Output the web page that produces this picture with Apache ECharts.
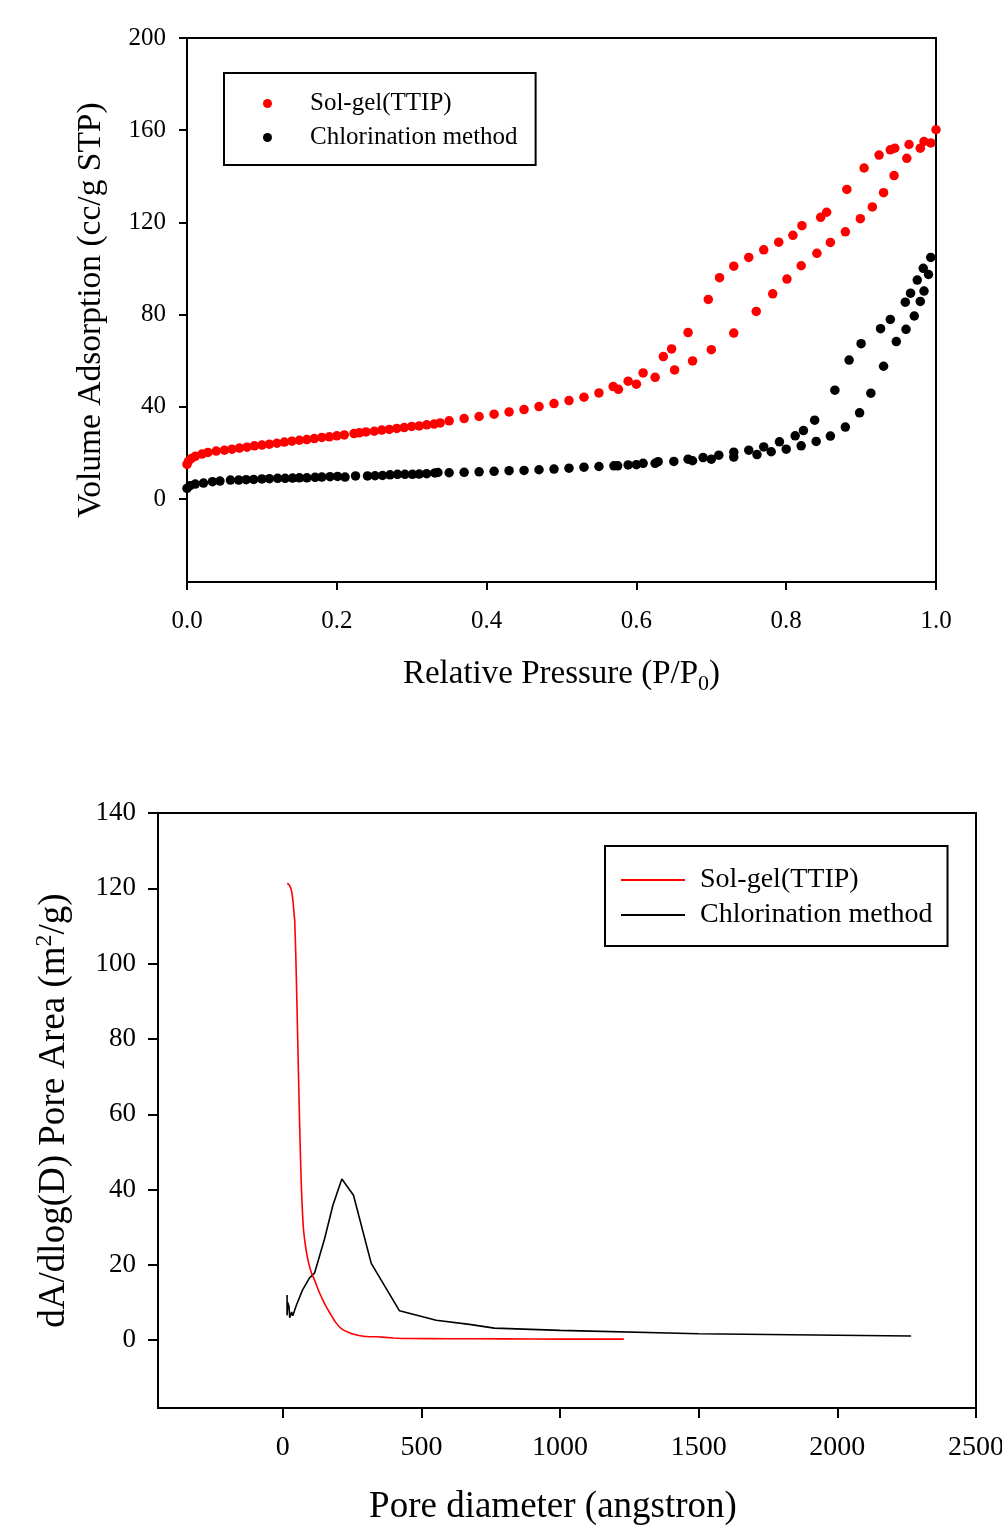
<!DOCTYPE html>
<html>
<head>
<meta charset="utf-8">
<script src="https://cdn.jsdelivr.net/npm/echarts@6/dist/echarts.min.js"></script>
<style>
html,body{margin:0;padding:0;background:#fff;}
#chart{width:1002px;height:1529px;}
</style>
</head>
<body>
<div id="chart"></div>
<script>
// ---- Top chart: N2 isotherms (P/P0, volume cc/g STP) ----
var isoXTicks = [0, 0.2, 0.4, 0.6, 0.8, 1.0];
var isoYTicks = [0, 40, 80, 120, 160, 200];
var solgelIsotherm = [[0.000,15.0],[0.002,16.4],[0.006,17.6],[0.011,18.5],[0.020,19.5],[0.028,20.2],[0.039,20.8],[0.050,21.2],[0.060,21.6],[0.070,22.1],[0.080,22.5],[0.090,23.1],[0.100,23.4],[0.110,23.8],[0.120,24.2],[0.130,24.7],[0.140,25.1],[0.150,25.5],[0.160,25.8],[0.170,26.2],[0.180,26.7],[0.190,27.0],[0.200,27.4],[0.210,27.8],[0.223,28.4],[0.230,28.7],[0.239,29.1],[0.250,29.4],[0.260,29.9],[0.270,30.2],[0.280,30.6],[0.290,31.0],[0.300,31.5],[0.310,31.7],[0.320,32.2],[0.330,32.5],[0.338,33.0],[0.350,33.9],[0.370,34.9],[0.390,35.8],[0.410,36.8],[0.430,37.8],[0.450,38.8],[0.470,40.1],[0.490,41.4],[0.510,42.7],[0.530,44.2],[0.550,46.0],[0.569,48.8],[0.576,47.6],[0.589,51.1],[0.600,49.8],[0.609,54.7],[0.625,52.8],[0.636,61.8],[0.647,65.1],[0.651,56.0],[0.669,72.2],[0.675,59.9],[0.696,86.6],[0.700,64.8],[0.711,96.0],[0.730,101.0],[0.730,72.0],[0.750,104.8],[0.760,81.4],[0.770,108.1],[0.782,89.0],[0.790,111.4],[0.801,95.4],[0.809,114.4],[0.820,101.2],[0.821,118.6],[0.841,106.6],[0.846,122.2],[0.854,124.4],[0.859,111.3],[0.879,115.9],[0.881,134.3],[0.899,121.6],[0.904,143.6],[0.915,126.7],[0.924,149.2],[0.930,132.9],[0.939,151.5],[0.944,140.3],[0.945,152.2],[0.961,147.8],[0.964,153.8],[0.979,152.2],[0.984,155.1],[0.993,154.5],[1.000,160.2]];
var chlorIsotherm = [[0.000,4.6],[0.004,5.8],[0.011,6.5],[0.022,6.9],[0.034,7.5],[0.044,7.8],[0.058,8.2],[0.069,8.2],[0.079,8.4],[0.089,8.5],[0.100,8.7],[0.110,8.8],[0.121,9.0],[0.131,9.0],[0.141,9.1],[0.150,9.2],[0.160,9.2],[0.171,9.4],[0.180,9.5],[0.191,9.7],[0.201,9.8],[0.211,9.5],[0.225,10.0],[0.241,10.0],[0.251,10.1],[0.261,10.2],[0.271,10.5],[0.281,10.7],[0.291,10.7],[0.301,10.7],[0.310,10.8],[0.320,11.0],[0.331,11.3],[0.335,11.5],[0.350,11.4],[0.370,11.6],[0.390,11.8],[0.410,12.0],[0.430,12.3],[0.450,12.4],[0.470,12.7],[0.490,13.0],[0.510,13.4],[0.530,13.8],[0.550,14.1],[0.570,14.4],[0.575,14.4],[0.589,14.8],[0.600,14.9],[0.609,15.5],[0.625,15.5],[0.629,16.2],[0.650,16.3],[0.669,17.3],[0.675,16.6],[0.689,18.0],[0.700,17.3],[0.710,19.0],[0.730,20.3],[0.730,18.2],[0.750,21.2],[0.761,19.3],[0.770,22.6],[0.780,20.5],[0.791,24.8],[0.800,21.6],[0.812,27.4],[0.820,23.1],[0.823,29.7],[0.838,34.2],[0.840,25.0],[0.859,27.3],[0.865,47.2],[0.879,31.2],[0.884,60.3],[0.898,37.4],[0.900,67.4],[0.913,45.9],[0.926,73.9],[0.930,57.6],[0.939,77.9],[0.947,68.3],[0.959,85.4],[0.960,73.6],[0.966,89.3],[0.971,79.4],[0.975,95.0],[0.979,85.7],[0.983,100.1],[0.984,90.2],[0.990,97.4],[0.993,104.8]];

// ---- Bottom chart: pore area distribution (angstrom, m2/g) ----
var psdXTicks = [0, 500, 1000, 1500, 2000, 2500];
var psdYTicks = [0, 20, 40, 60, 80, 100, 120, 140];
var solgelPSD = [[15.5,121.3],[19,121.2],[24,120.8],[29,120.0],[33,118.7],[37,116.5],[41,113.0],[43,111.5],[47,102.0],[51,89.4],[55,76.0],[59,62.9],[63,51.0],[67,40.7],[71,34.0],[75,29.2],[82,25.0],[91,21.2],[102,18.2],[115,15.9],[130,13.0],[145,10.6],[158,8.7],[171,7.1],[190,4.8],[211,3.1],[240,2.0],[271,1.3],[300,1.0],[337,0.9],[400,0.6],[457,0.45],[600,0.4],[800,0.35],[1000,0.3],[1230,0.3]];
var chlorPSD = [[15.5,12.0],[15.5,6.6],[18,10.0],[22.7,8.8],[25,6.0],[27.7,5.8],[32,7.5],[36,6.5],[39.6,6.2],[49,9.3],[71,13.3],[97,16.6],[115,17.9],[151,27.0],[181,35.9],[213,42.8],[255,38.5],[319,20.4],[421,7.8],[553,5.3],[673,4.2],[763,3.2],[1000,2.6],[1500,1.7],[2000,1.3],[2266,1.1]];

var FONT = '"Liberation Serif", "Times New Roman", serif';
var chart = echarts.init(document.getElementById('chart'), null, {renderer: 'canvas'});

function lineStyle() { return {color: '#000', width: 2}; }

var option = {
  backgroundColor: '#fff',
  animation: false,
  textStyle: {fontFamily: FONT, color: '#000'},
  grid: [
    {left: 187, top: 38, width: 749, height: 544, show: true, borderColor: '#000', borderWidth: 2, backgroundColor: 'transparent', containLabel: false, outerBoundsMode: 'none'},
    {left: 158, top: 813, width: 818, height: 595, show: true, borderColor: '#000', borderWidth: 2, backgroundColor: 'transparent', containLabel: false, outerBoundsMode: 'none'}
  ],
  legend: [
    {
      left: 224, top: 73, orient: 'vertical',
      padding: [18, 18, 15, 39],
      borderColor: '#000', borderWidth: 2,
      itemWidth: 9, itemHeight: 9, itemGap: 9,
      textStyle: {fontFamily: FONT, fontSize: 25, color: '#000', lineHeight: 24, padding: [0, 0, 0, 33]},
      data: [{name: 'Sol-gel(TTIP)', icon: 'circle'}, {name: 'Chlorination method', icon: 'circle'}],
      selectedMode: false
    },
    {
      left: 605, top: 846, orient: 'vertical',
      padding: [20, 15, 17, 16],
      borderColor: '#000', borderWidth: 2,
      itemWidth: 64, itemHeight: 2, itemGap: 7,
      textStyle: {fontFamily: FONT, fontSize: 28, color: '#000', lineHeight: 26, padding: [0, 0, 0, 10]},
      data: [{name: 'Sol-gel(TTIP)', icon: 'rect'}, {name: 'Chlorination method', icon: 'rect'}],
      selectedMode: false
    }
  ],
  xAxis: [
    {
      gridIndex: 0, type: 'value', min: 0, max: 1, interval: 0.2,
      axisLine: {show: true, onZero: false, lineStyle: lineStyle()},
      axisTick: {show: true, inside: false, length: 8, lineStyle: lineStyle()},
      axisLabel: {fontFamily: FONT, fontSize: 25, color: '#000', margin: 27,
        formatter: function (v) { return v.toFixed(1); }},
      splitLine: {show: false},
      name: 'Relative Pressure (P/P{sub|0})', nameLocation: 'middle', nameGap: 72,
      nameTextStyle: {fontFamily: FONT, fontSize: 33, color: '#000',
        rich: {sub: {fontFamily: FONT, fontSize: 22, color: '#000', padding: [19, 0, 0, 0]}}}
    },
    {
      gridIndex: 1, type: 'value', min: -450, max: 2500,
      axisLine: {show: true, onZero: false, lineStyle: lineStyle()},
      axisTick: {show: true, inside: false, length: 10, lineStyle: lineStyle(), customValues: psdXTicks},
      axisLabel: {fontFamily: FONT, fontSize: 28, color: '#000', margin: 26, customValues: psdXTicks, hideOverlap: false,
        formatter: function (v) { return String(v); }},
      splitLine: {show: false},
      name: 'Pore diameter (angstron)', nameLocation: 'middle', nameGap: 81,
      nameTextStyle: {fontFamily: FONT, fontSize: 37, color: '#000', padding: [0, 28, 0, 0]}
    }
  ],
  yAxis: [
    {
      gridIndex: 0, type: 'value', min: -36, max: 200,
      axisLine: {show: true, onZero: false, lineStyle: lineStyle()},
      axisTick: {show: true, inside: false, length: 8, lineStyle: lineStyle(), customValues: isoYTicks},
      axisLabel: {fontFamily: FONT, fontSize: 25, color: '#000', margin: 21, customValues: isoYTicks},
      splitLine: {show: false},
      name: 'Volume Adsorption (cc/g STP)', nameLocation: 'middle', nameGap: 79,
      nameTextStyle: {fontFamily: FONT, fontSize: 33.5, color: '#000'}
    },
    {
      gridIndex: 1, type: 'value', min: -18, max: 140,
      axisLine: {show: true, onZero: false, lineStyle: lineStyle()},
      axisTick: {show: true, inside: false, length: 10, lineStyle: lineStyle(), customValues: psdYTicks},
      axisLabel: {fontFamily: FONT, fontSize: 27, color: '#000', margin: 22, customValues: psdYTicks},
      splitLine: {show: false},
      name: 'dA/dlog(D) Pore Area (m{sup|2}/g)', nameLocation: 'middle', nameGap: 83,
      nameTextStyle: {fontFamily: FONT, fontSize: 37, color: '#000',
        rich: {sup: {fontFamily: FONT, fontSize: 24, color: '#000', padding: [0, 0, 18, 0]}}}
    }
  ],
  series: [
    {name: 'Sol-gel(TTIP)', type: 'scatter', xAxisIndex: 0, yAxisIndex: 0, data: solgelIsotherm,
      symbol: 'circle', symbolSize: 9.5, itemStyle: {color: '#ff0000', opacity: 1}, z: 3},
    {name: 'Chlorination method', type: 'scatter', xAxisIndex: 0, yAxisIndex: 0, data: chlorIsotherm,
      symbol: 'circle', symbolSize: 9.5, itemStyle: {color: '#000000', opacity: 1}, z: 2},
    {name: 'Sol-gel(TTIP)', type: 'line', xAxisIndex: 1, yAxisIndex: 1, data: solgelPSD,
      showSymbol: false, symbol: 'none', smooth: 0.2, lineStyle: {color: '#ff0000', width: 1.6},
      itemStyle: {color: '#ff0000'}, z: 3},
    {name: 'Chlorination method', type: 'line', xAxisIndex: 1, yAxisIndex: 1, data: chlorPSD,
      showSymbol: false, symbol: 'none', lineStyle: {color: '#000000', width: 1.6},
      itemStyle: {color: '#000000'}, z: 2}
  ]
};
chart.setOption(option);
</script>
</body>
</html>
